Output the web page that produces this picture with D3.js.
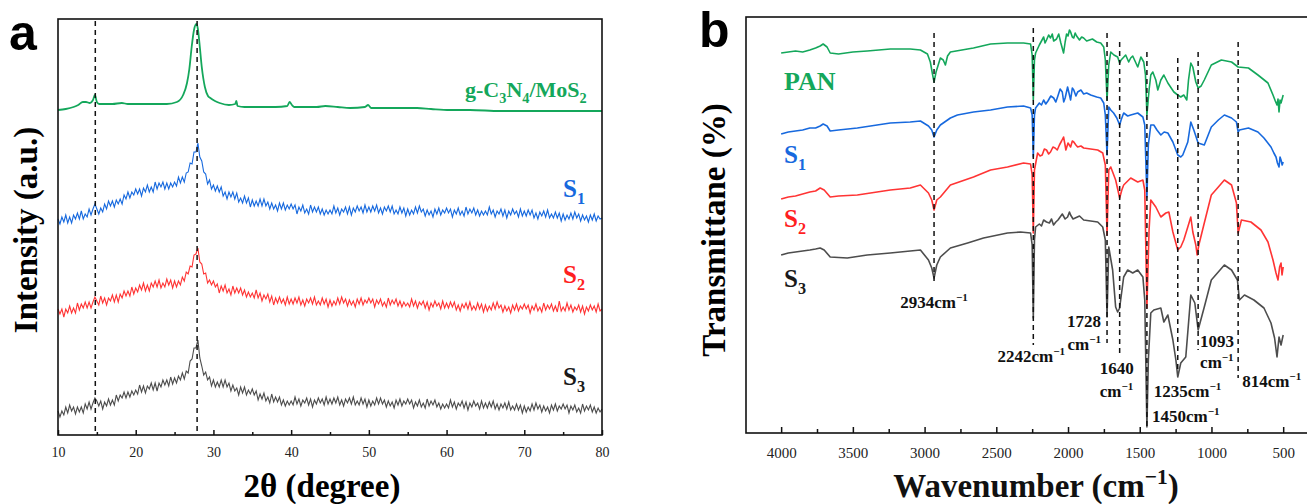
<!DOCTYPE html>
<html lang="en">
<head>
<meta charset="UTF-8">
<title>XRD and FTIR</title>
<script src="https://cdn.jsdelivr.net/npm/d3@7"></script>
<style>
  body { margin: 0; background: #fff; }
  svg { display: block; }
  text { font-family: "Liberation Serif", "Times New Roman", serif; }
</style>
</head>
<body>
<svg id="chart" width="1307" height="504"></svg>
<script>
// ---------- panel a : XRD ----------
const xrdTicks = [10, 20, 30, 40, 50, 60, 70, 80];
const xrdMinor = [15, 25, 35, 45, 55, 65, 75];
const xrdRefLines = [14.8, 27.9];

// g-C3N4/MoS2, [2theta, intensity]
const gcnXrd = [[10,325],[11,326],[12,328],[12.6,330],[13.2,333],[13.6,333],[14.1,332],[14.5,335],[14.75,340],[15.0,333],
  [15.3,331],[16.3,331],[17,331],[18.2,332],[19,331],[20.5,331],[22,331],[24,331],[25.3,333],[26.1,340],[26.6,352],
  [26.9,366],[27.2,388],[27.5,405],[27.8,411],[28.0,406],[28.2,392],[28.5,368],[28.9,348],[29.3,339],[29.6,337],
  [30.2,334],[30.8,332],[32,330],[32.8,331],[32.95,334],[33.1,329],[34,328],[36,328],[38,328],[39.5,329],[39.8,333],
  [40.1,330],[40.4,328],[42,328],[43.3,328],[44.4,329],[46,328],[47.6,327],[49.5,328],[49.9,330],[50.3,327],[51,327],
  [53,327],[56.2,327],[58,326],[60.4,325],[63,325],[66.9,324],[70,324],[75,324],[80,324]];

// S1..S3 scans, 0.25 degree step from 10 to 80 (one row = 5 degrees)
const scanAngle = d3.range(10, 80.001, 0.25);
const s1Xrd = [
  216,211,218,213,220,212,218,212,220,216,222,216,224,216,221,218,226,220,226,231,
  226,221,227,223,231,226,234,229,234,228,235,231,236,231,240,236,243,237,243,240,
  246,241,246,239,247,243,250,243,248,243,253,246,252,248,253,246,252,246,252,248,
  253,249,258,252,258,253,262,263,272,271,283,283,292,278,274,263,261,251,255,246,
  250,244,249,243,248,239,243,236,243,238,243,236,242,233,237,232,239,232,237,228,
  235,229,234,229,236,229,236,229,233,226,232,226,230,224,232,226,232,225,230,226,
  231,226,230,221,228,224,230,222,226,221,230,223,228,223,228,221,226,220,225,221,
  225,221,229,222,227,220,226,223,228,221,228,220,227,223,229,224,228,222,230,223,
  228,223,229,224,230,222,227,221,228,224,229,223,229,221,225,221,228,222,227,219,
  226,220,225,221,228,222,229,223,226,219,225,220,224,218,226,221,227,220,225,222,
  227,222,226,218,225,221,227,220,224,219,228,221,226,222,227,220,225,219,224,220,
  224,220,228,221,225,218,224,221,226,219,225,217,224,220,226,221,224,218,226,219,
  224,219,225,220,225,217,222,216,223,219,224,218,225,217,221,217,223,217,222,214,
  221,215,220,216,222,216,223,217,221,214,220,215,219,213,220,215,221,214,219,216,
  217];
const s2Xrd = [
  126,121,126,118,126,122,129,122,127,122,132,125,131,127,133,127,133,127,133,138,
  134,130,139,132,137,130,137,134,140,133,140,133,141,137,144,139,144,139,148,141,
  147,143,150,145,152,144,150,144,152,148,154,148,155,147,152,148,156,150,155,147,
  154,148,154,150,158,154,163,161,169,168,180,181,187,173,171,161,162,152,155,150,
  154,148,151,142,149,144,150,142,146,140,149,142,147,142,147,140,145,138,143,138,
  142,137,145,137,142,134,140,136,141,133,139,130,137,132,138,132,136,130,138,131,
  136,131,137,132,138,130,135,129,136,132,137,131,138,130,134,130,137,131,136,128,
  135,129,134,130,137,131,138,132,136,129,135,130,134,128,136,131,137,130,135,132,
  137,132,136,128,135,131,136,129,133,128,137,130,135,131,136,129,134,128,133,129,
  132,128,136,129,134,127,133,130,134,127,133,125,132,128,134,129,132,126,134,127,
  132,127,133,128,133,125,130,124,131,127,132,126,133,125,129,125,132,126,131,123,
  130,124,129,125,132,126,133,127,130,123,129,124,128,122,130,125,131,124,129,126,
  131,126,130,122,129,125,131,124,128,123,132,125,130,126,131,124,129,123,134,124,
  128,124,132,125,130,123,128,125,130,123,129,121,128,124,130,125,129,123,131,124,
  126];
const s3Xrd = [
  24,18,24,20,28,22,30,24,28,21,28,23,28,22,31,26,33,26,32,37,
  34,29,34,26,33,29,36,30,35,30,40,34,40,37,43,37,43,38,44,40,
  45,41,50,43,49,42,49,46,52,45,52,44,52,48,55,50,55,49,58,51,
  57,52,59,55,62,56,64,62,74,76,87,87,95,77,69,60,63,55,58,49,
  55,48,53,48,55,48,55,48,52,44,50,44,47,40,48,42,48,40,45,41,
  46,40,44,35,41,36,42,34,38,32,41,33,38,33,38,30,35,29,34,30,
  34,30,38,31,36,29,35,32,37,30,36,28,35,31,37,32,36,30,38,31,
  36,31,37,32,38,30,35,29,36,32,37,31,38,30,34,30,37,31,36,28,
  35,29,34,30,37,31,37,31,35,28,34,29,33,27,35,30,36,29,34,31,
  36,31,35,27,33,29,35,28,32,27,36,29,34,30,35,28,32,26,31,27,
  31,27,35,28,33,26,32,29,34,27,33,25,32,28,34,29,32,26,34,27,
  32,27,33,28,34,26,31,25,31,27,32,26,33,25,29,25,31,25,30,22,
  29,23,28,24,31,25,32,26,30,23,29,24,28,22,30,25,31,24,29,26,
  31,26,30,22,29,25,30,23,27,22,31,24,29,25,30,23,28,22,27,23,
  26];

// ---------- panel b : FTIR ----------
const ftirTicks = [4000, 3500, 3000, 2500, 2000, 1500, 1000, 500];
const ftirMinor = [3750, 3250, 2750, 2250, 1750, 1250, 750];

// [wavenumber, transmittance a.u.]
const ftirPAN = [[4000,380],[3950,381],[3900,382],[3850,381],[3800,383],[3760,385],[3728,387],[3707,389],[3680,386],
  [3658,380],[3600,379],[3500,381],[3400,382],[3239,384],[3100,384],[3029,383],[2980,379],[2960,371],[2945,359],
  [2934,351],[2920,361],[2890,375],[2870,373],[2855,368],[2840,377],[2820,381],[2700,384],[2659,385],[2540,389],
  [2422,390],[2310,390],[2261,389],[2250,378],[2242,333],[2234,373],[2226,380],[2200,388],[2185,392],[2170,396],
  [2160,390],[2150,393],[2135,398],[2122,395],[2110,399],[2100,392],[2080,394],[2065,399],[2050,390],[2031,380],
  [2020,391],[2010,399],[2000,397],[1990,403],[1982,401],[1970,396],[1960,395],[1950,400],[1940,397],[1920,393],
  [1905,396],[1891,395],[1870,392],[1850,393],[1830,394],[1800,391],[1772,390],[1751,386],[1740,373],[1728,333],
  [1716,368],[1702,381],[1680,378],[1654,376],[1640,370],[1630,373],[1598,378],[1577,371],[1563,375],[1549,377],
  [1514,366],[1492,376],[1472,371],[1460,358],[1450,318],[1435,343],[1423,358],[1409,361],[1388,353],[1374,343],
  [1353,353],[1332,358],[1304,350],[1262,341],[1235,338],[1214,336],[1193,338],[1172,333],[1160,353],[1144,370],
  [1130,366],[1109,351],[1093,345],[1072,347],[1050,353],[1001,368],[931,373],[860,371],[814,366],[742,365],
  [676,358],[606,350],[571,338],[555,332],[543,328],[536,334],[529,321],[522,333],[515,330],[500,338]];
const ftirS1 = [[4000,299],[3950,301],[3900,302],[3850,303],[3800,305],[3760,305],[3728,307],[3707,309],[3680,307],
  [3658,302],[3600,303],[3469,305],[3239,310],[3100,311],[3029,312],[2973,307],[2950,303],[2934,296],[2915,303],
  [2890,308],[2820,315],[2771,318],[2659,321],[2540,323],[2422,326],[2310,327],[2261,325],[2250,318],[2242,276],
  [2234,318],[2226,325],[2200,330],[2185,328],[2170,333],[2155,329],[2140,332],[2120,337],[2100,335],[2085,331],
  [2073,336],[2055,344],[2040,341],[2030,331],[2020,335],[2003,346],[1990,338],[1982,333],[1970,345],[1960,343],
  [1945,337],[1933,341],[1910,343],[1891,339],[1870,340],[1842,338],[1800,336],[1772,335],[1751,330],[1740,318],
  [1728,278],[1716,326],[1702,323],[1682,320],[1660,315],[1640,308],[1630,313],[1612,320],[1584,317],[1563,318],
  [1514,320],[1478,316],[1465,308],[1450,236],[1440,288],[1423,308],[1402,308],[1380,303],[1353,298],[1330,301],
  [1304,300],[1269,291],[1248,283],[1235,278],[1214,276],[1200,278],[1165,291],[1144,311],[1123,303],[1093,290],
  [1050,288],[1001,306],[952,313],[910,318],[860,315],[826,311],[814,301],[805,303],[742,305],[676,301],[634,295],
  [585,286],[565,280],[550,276],[540,270],[529,266],[522,276],[515,273],[507,268],[500,271]];
const ftirS2 = [[4000,234],[3950,236],[3900,237],[3850,239],[3800,241],[3760,242],[3728,245],[3700,243],[3658,236],
  [3600,237],[3469,238],[3239,243],[3100,245],[3029,248],[2973,240],[2950,233],[2934,223],[2915,233],[2890,236],
  [2820,248],[2659,256],[2540,263],[2422,266],[2310,270],[2261,269],[2250,258],[2242,200],[2234,263],[2212,280],
  [2195,277],[2180,278],[2165,284],[2150,283],[2135,279],[2122,281],[2105,286],[2090,285],[2075,283],[2060,288],
  [2045,292],[2031,296],[2022,289],[2015,283],[2000,290],[1982,286],[1970,292],[1960,291],[1945,288],[1933,286],
  [1910,287],[1891,285],[1842,284],[1793,283],[1758,280],[1740,268],[1728,198],[1716,263],[1702,266],[1668,253],
  [1640,235],[1625,243],[1612,248],[1563,255],[1514,251],[1478,253],[1465,243],[1450,125],[1435,203],[1423,233],
  [1388,226],[1353,216],[1318,220],[1297,221],[1269,201],[1235,183],[1214,186],[1193,193],[1165,206],[1144,216],
  [1130,201],[1109,188],[1100,178],[1088,188],[1050,210],[1001,238],[952,246],[910,253],[860,248],[826,230],
  [814,200],[791,213],[725,211],[655,203],[606,191],[571,173],[550,160],[536,153],[525,166],[515,170],[508,158],[500,166]];
const ftirS3 = [[4000,178],[3950,180],[3900,181],[3850,182],[3800,183],[3760,184],[3728,185],[3700,183],[3658,176],
  [3539,175],[3400,178],[3239,180],[3100,182],[3029,183],[2973,173],[2950,165],[2934,155],[2915,168],[2890,176],
  [2820,185],[2700,190],[2589,195],[2422,200],[2331,201],[2261,200],[2250,188],[2242,115],[2234,193],[2226,206],
  [2200,209],[2185,207],[2170,213],[2150,211],[2130,210],[2115,214],[2101,208],[2085,211],[2070,213],[2055,216],
  [2040,219],[2020,214],[2003,216],[1990,221],[1982,218],[1965,214],[1950,215],[1920,217],[1891,213],[1842,212],
  [1793,211],[1758,206],[1740,193],[1728,116],[1716,186],[1689,163],[1668,126],[1654,121],[1640,125],[1633,133],
  [1612,156],[1584,163],[1549,160],[1514,163],[1478,156],[1465,133],[1450,6],[1440,73],[1423,120],[1402,123],
  [1353,125],[1332,111],[1304,118],[1269,93],[1248,73],[1235,56],[1214,70],[1179,76],[1144,138],[1116,130],
  [1093,103],[1050,126],[1001,153],[910,168],[860,163],[819,153],[805,133],[770,138],[704,133],[634,125],
  [585,110],[560,95],[543,76],[529,96],[515,88],[500,98]];

// marked bands: wavenumber, dashed line top / bottom (transmittance units)
const ftirBands = [2934, 2242, 1728, 1640, 1450, 1235, 1093, 814];
const bandTop = [400, 405, 400, 391, 381, 375, 381, 391];
const bandBottom = [148, 88, 90, 76, 6, 60, 83, 55];

const green = '#14a75b', blue = '#1769de', red = '#ff3434', gray = '#4d4d4d';

const svg = d3.select('#chart');

function richLabel(g, x, y, parts, size, color, anchor = 'start') {
  const t = g.append('text').attr('x', x).attr('y', y)
    .attr('text-anchor', anchor).attr('font-weight', 'bold')
    .attr('font-size', size).attr('fill', color);
  let shift = 0;
  parts.forEach(([s, kind]) => {
    const target = kind === 'sub' ? size * 0.28 : kind === 'sup' ? -size * 0.4 : 0;
    t.append('tspan').attr('dy', target - shift)
      .attr('font-size', kind ? size * 0.65 : size).text(s);
    shift = target;
  });
}

function styleAxis(g, size) {
  g.select('.domain').remove();
  g.attr('font-family', '"Liberation Serif", serif').attr('font-size', size);
  g.selectAll('line').attr('stroke', '#111').attr('stroke-width', 1.5);
  g.selectAll('text').attr('fill', '#222');
}

// ===== panel a =====
const xA = d3.scaleLinear().domain([10, 80]).range([58, 602]);
const yA = d3.scaleLinear().domain([0, 416]).range([435, 19]);
const gA = svg.append('g');

const lineA = d3.line().x(d => xA(d[0])).y(d => yA(d[1]));
const scans = [[s1Xrd, blue], [s2Xrd, red], [s3Xrd, gray]];
scans.forEach(([vals, col]) => {
  gA.append('path')
    .datum(scanAngle.map((t, i) => [t, vals[i]]))
    .attr('d', lineA).attr('fill', 'none')
    .attr('stroke', col).attr('stroke-width', 1.1);
});
gA.append('path').datum(gcnXrd)
  .attr('d', lineA.curve(d3.curveMonotoneX)).attr('fill', 'none')
  .attr('stroke', green).attr('stroke-width', 1.8);

gA.selectAll('.ref').data(xrdRefLines).enter().append('line')
  .attr('x1', d => xA(d)).attr('x2', d => xA(d))
  .attr('y1', yA(414)).attr('y2', yA(0))
  .attr('stroke', '#111').attr('stroke-width', 1.5).attr('stroke-dasharray', '5,4');

gA.append('g').attr('transform', 'translate(0,435)')
  .call(d3.axisBottom(xA).tickValues(xrdTicks).tickFormat(d3.format('d'))
    .tickSize(-5).tickSizeOuter(0).tickPadding(12))
  .call(g => styleAxis(g, 14));
gA.append('g').attr('transform', 'translate(0,435)')
  .call(d3.axisBottom(xA).tickValues(xrdMinor).tickSize(-3).tickSizeOuter(0).tickFormat(''))
  .call(g => styleAxis(g, 14));

gA.append('rect').attr('x', 58).attr('y', 19).attr('width', 544).attr('height', 416)
  .attr('fill', 'none').attr('stroke', '#111').attr('stroke-width', 1.6);

richLabel(gA, 465, 97, [['g-C'], ['3', 'sub'], ['N'], ['4', 'sub'], ['/MoS'], ['2', 'sub']], 22, green);
richLabel(gA, 563, 197, [['S'], ['1', 'sub']], 25, blue);
richLabel(gA, 563, 283, [['S'], ['2', 'sub']], 25, '#ff1f1f');
richLabel(gA, 563, 385, [['S'], ['3', 'sub']], 25, '#1a1a1a');

gA.append('text').attr('x', 322).attr('y', 497).attr('text-anchor', 'middle')
  .attr('font-size', 33).attr('font-weight', 'bold').text('2θ (degree)');
gA.append('text').attr('transform', 'translate(37,230) rotate(-90)').attr('text-anchor', 'middle')
  .attr('font-size', 33).attr('font-weight', 'bold').text('Intensity (a.u.)');
gA.append('text').attr('x', 9).attr('y', 50)
  .style('font-family', '"Liberation Sans", Arial, sans-serif')
  .attr('font-size', 50).attr('font-weight', 'bold').text('a');

// ===== panel b =====
const xB = d3.scaleLinear().domain([4245, 320]).range([746, 1309]);
const yB = d3.scaleLinear().domain([0, 416]).range([433, 17]);
const gB = svg.append('g');

const lineB = d3.line().x(d => xB(d[0])).y(d => yB(d[1]));
[[ftirPAN, green], [ftirS1, blue], [ftirS2, red], [ftirS3, gray]].forEach(([data, col]) => {
  gB.append('path').datum(data).attr('d', lineB).attr('fill', 'none')
    .attr('stroke', col).attr('stroke-width', 1.6).attr('stroke-linejoin', 'round');
});

gB.selectAll('.band').data(ftirBands).enter().append('line')
  .attr('x1', d => xB(d)).attr('x2', d => xB(d))
  .attr('y1', (d, i) => yB(bandTop[i])).attr('y2', (d, i) => yB(bandBottom[i]))
  .attr('stroke', '#111').attr('stroke-width', 1.5).attr('stroke-dasharray', '5,4');

gB.append('g').attr('transform', 'translate(0,433)')
  .call(d3.axisBottom(xB).tickValues(ftirTicks).tickFormat(d3.format('d'))
    .tickSize(-6).tickSizeOuter(0).tickPadding(14))
  .call(g => styleAxis(g, 15));
gB.append('g').attr('transform', 'translate(0,433)')
  .call(d3.axisBottom(xB).tickValues(ftirMinor).tickSize(-4).tickSizeOuter(0).tickFormat(''))
  .call(g => styleAxis(g, 15));

gB.append('rect').attr('x', 746).attr('y', 17).attr('width', 600).attr('height', 416)
  .attr('fill', 'none').attr('stroke', '#111').attr('stroke-width', 1.6);

const cm = [['cm'], ['−1', 'sup']];
const fs = 17;
richLabel(gB, xB(2934), 308, [['2934'], ...cm], fs, '#111', 'middle');
richLabel(gB, xB(2242) - 2, 362, [['2242'], ...cm], fs, '#111', 'middle');
richLabel(gB, xB(1728) - 6, 327, [['1728']], fs, '#111', 'end');
richLabel(gB, xB(1728) - 6, 350, cm, fs, '#111', 'end');
richLabel(gB, xB(1640) - 20, 374, [['1640']], fs, '#111');
richLabel(gB, xB(1640) - 20, 397, cm, fs, '#111');
richLabel(gB, xB(1450) + 5, 422, [['1450'], ...cm], fs, '#111');
richLabel(gB, xB(1235) - 24, 397, [['1235'], ...cm], fs, '#111');
richLabel(gB, xB(1093) + 2, 347, [['1093']], fs, '#111');
richLabel(gB, xB(1093) + 2, 368, cm, fs, '#111');
richLabel(gB, xB(814) + 4, 387, [['814'], ...cm], fs, '#111');

richLabel(gB, 784, 90, [['PAN']], 26, green);
richLabel(gB, 784, 163, [['S'], ['1', 'sub']], 25, blue);
richLabel(gB, 784, 227, [['S'], ['2', 'sub']], 25, '#ff1f1f');
richLabel(gB, 784, 287, [['S'], ['3', 'sub']], 25, '#1a1a1a');

richLabel(gB, 1036, 497, [['Wavenumber (cm'], ['−1', 'sup'], [')']], 33, '#111', 'middle');
gB.append('text').attr('transform', 'translate(725,230) rotate(-90)').attr('text-anchor', 'middle')
  .attr('font-size', 33).attr('font-weight', 'bold').text('Transmittane (%)');
gB.append('text').attr('x', 699).attr('y', 47)
  .style('font-family', '"Liberation Sans", Arial, sans-serif')
  .attr('font-size', 50).attr('font-weight', 'bold').text('b');
</script>
</body>
</html>
